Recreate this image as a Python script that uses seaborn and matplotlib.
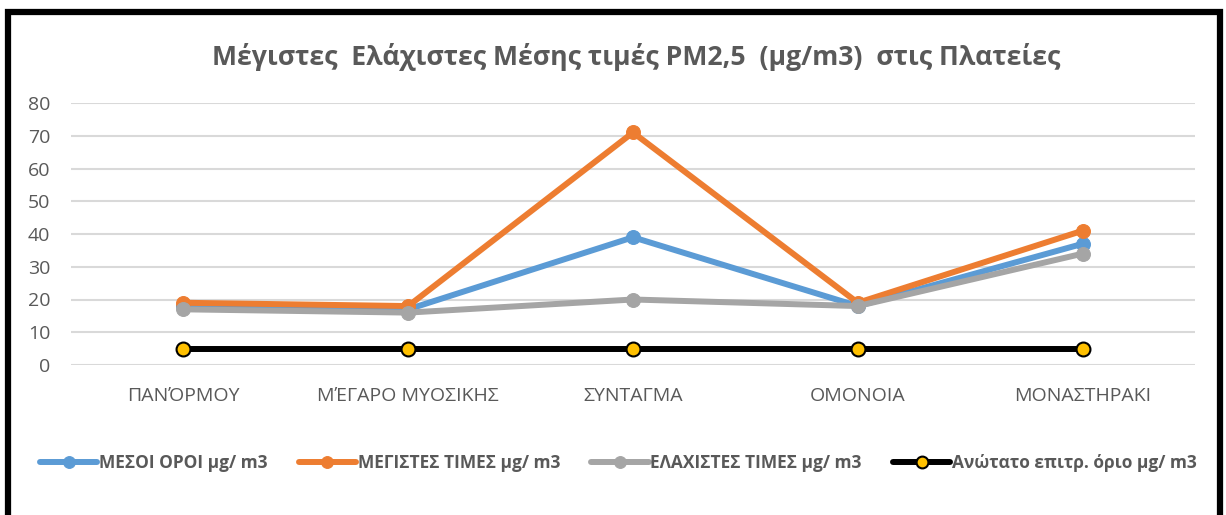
import pandas as pd
import numpy as np
import matplotlib.pyplot as plt
import seaborn as sns
from matplotlib.patches import Rectangle

places = ["ΠΑΝΌΡΜΟΥ", "ΜΈΓΑΡΟ ΜΥΟΣΙΚΗΣ", "ΣΥΝΤΑΓΜΑ", "ΟΜΟΝΟΙΑ", "ΜΟΝΑΣΤΗΡΑΚΙ"]
mean_vals = [18, 17, 39, 18, 37]
max_vals = [19, 18, 71, 19, 41]
min_vals = [17, 16, 20, 18, 34]
limit_vals = [5, 5, 5, 5, 5]
series_names = ["ΜΕΣΟΙ ΟΡΟΙ μg/ m3", "ΜΕΓΙΣΤΕΣ ΤΙΜΕΣ μg/ m3",
                "ΕΛΑΧΙΣΤΕΣ ΤΙΜΕΣ μg/ m3", "Ανώτατο επιτρ. όριο μg/ m3"]

sns.set_style("white")
plt.rcParams['font.family'] = ['Open Sans', 'DejaVu Sans']

grey_txt = "#595959"
colors = ["#5B9BD5", "#ED7D31", "#A5A5A5", "#000000"]

fig = plt.figure(figsize=(12.26, 5.15), dpi=100)
ax = fig.add_axes([71 / 1226, 1 - 365 / 515, (1195 - 71) / 1226, (365 - 103) / 515])

x = np.arange(len(places))
for name, vals, col in zip(series_names[:3], [mean_vals, max_vals, min_vals], colors[:3]):
    df = pd.DataFrame({"x": x, "y": vals})
    sns.lineplot(data=df, x="x", y="y", ax=ax, color=col, lw=4.3, marker="o",
                 markersize=10, markeredgecolor=col, label=name, sort=False)

df = pd.DataFrame({"x": x, "y": limit_vals})
sns.lineplot(data=df, x="x", y="y", ax=ax, color="black", lw=4.3, marker="o",
             markersize=10, markerfacecolor="#FFC000", markeredgecolor="black",
             markeredgewidth=1.5, label=series_names[3], sort=False)

ax.set_xlim(-0.5, 4.5)
ax.set_ylim(0, 80)
ax.set_yticks(range(0, 81, 10))
ax.set_xticks(x)
ax.set_xticklabels(places)
ax.set_xlabel("")
ax.set_ylabel("")
ax.yaxis.grid(True, color="#D9D9D9", lw=1.5)
ax.set_axisbelow(True)
for s in ax.spines.values():
    s.set_visible(False)
ax.tick_params(axis="both", length=0, labelsize=14, colors=grey_txt)
ax.tick_params(axis="y", pad=15)
ax.tick_params(axis="x", pad=16)

fig.text(0.519, 1 - 57 / 515, "Μέγιστες  Ελάχιστες Μέσης τιμές PM2,5  (μg/m3)  στις Πλατείες",
         ha="center", va="center", fontsize=19.2, fontweight="bold", color=grey_txt)

leg = ax.legend(loc="center", bbox_to_anchor=(0.487, (365 - 463) / 262),
                ncol=4, frameon=False, handlelength=3.3, handletextpad=0.1,
                columnspacing=1.8, markerscale=0.85,
                prop={"weight": "bold", "size": 12.5})
for t in leg.get_texts():
    t.set_color(grey_txt)

fig.patches.append(Rectangle((8 / 1226, -0.1), (1220 - 8) / 1226, 1.1 - 12 / 515,
                             transform=fig.transFigure, fill=False, ec="black", lw=4.5))

fig.savefig("out.png", dpi=100)
